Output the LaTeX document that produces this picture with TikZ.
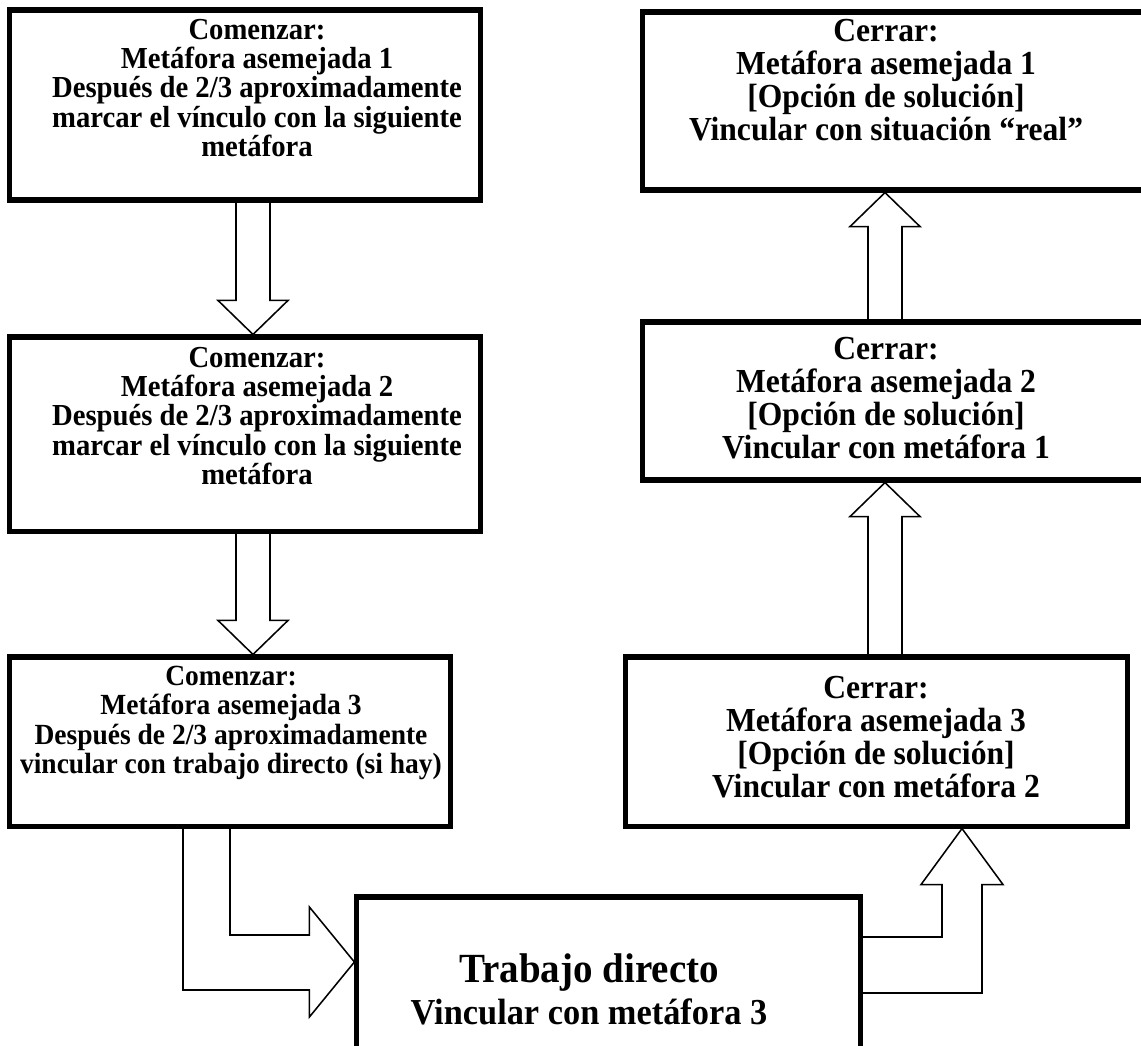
\documentclass[tikz,border=0pt]{standalone}
\usepackage{fontspec}
\setmainfont[FakeStretch=0.94]{Liberation Serif}
\usetikzlibrary{calc,backgrounds}

\tikzset{
  caja/.style={draw, line width=3.6pt, inner sep=0pt},
  textoa/.style={align=center, inner sep=0pt, font=\bfseries\fontsize{21.7}{20.8}\selectfont},
  textoc/.style={align=center, inner sep=0pt, font=\bfseries\fontsize{23.9}{23.5}\selectfont},
  flecha/.style={draw, line width=1.1pt, fill=white, line join=miter},
}

\begin{document}
\begin{tikzpicture}[x=0.025cm, y=-0.025cm]
        \useasboundingbox (0,0) rectangle (1141,1045);

        % Comenzar (izquierda)
        \node[caja, minimum width=11.75cm, minimum height=4.75cm] (a1) at (245,105) {};
        \node[textoa] (a1txt) at (257,88) {Comenzar:\\Metáfora asemejada 1\\Después de 2/3 aproximadamente\\marcar el vínculo con la siguiente\\metáfora};

        \node[caja, minimum width=11.75cm, minimum height=4.85cm] (a2) at (245,434) {};
        \node[textoa] (a2txt) at (257,416) {Comenzar:\\Metáfora asemejada 2\\Después de 2/3 aproximadamente\\marcar el vínculo con la siguiente\\metáfora};

        \node[caja, minimum width=11cm, minimum height=4.225cm] (a3) at (230,741.5) {};
        \node[textoa, font=\bfseries\fontsize{20.8}{20.8}\selectfont] (a3txt) at (231,723) {Comenzar:\\Metáfora asemejada 3\\Después de 2/3 aproximadamente\\vincular con trabajo directo (si hay)};

        % Cerrar (derecha)
        \node[caja, minimum width=12.675cm, minimum height=4.45cm] (c1) at (896.5,101) {};
        \node[textoc] (c1txt) at (886,80) {Cerrar:\\Metáfora asemejada 1\\{[Opción de solución]}\\Vincular con situación “real”};

        \node[caja, minimum width=12.675cm, minimum height=3.95cm] (c2) at (896.5,401) {};
        \node[textoc] (c2txt) at (886,398) {Cerrar:\\Metáfora asemejada 2\\{[Opción de solución]}\\Vincular con metáfora 1};

        \node[caja, minimum width=12.525cm, minimum height=4.225cm] (c3) at (876.5,741.5) {};
        \node[textoc] (c3txt) at (876,737) {Cerrar:\\Metáfora asemejada 3\\{[Opción de solución]}\\Vincular con metáfora 2};

        % Trabajo directo
        \node[caja, minimum width=12.575cm, minimum height=4.65cm] (td) at (608.5,990) {};
        \node[align=center, inner sep=0pt, font=\bfseries\fontsize{26}{30}\selectfont] (tdtxt) at (589,989) {{\fontsize{29.5}{30}\selectfont Trabajo directo}\\Vincular con metáfora 3};

        \begin{scope}[on background layer]
        % flechas hacia abajo
        \coordinate (t12) at ($(a2.north)+(8,0)$);
        \draw[flecha] ($(t12 |- a1.south)+(-17,0)$) -- ($(t12)+(-17,-34)$) -- ($(t12)+(-35,-34)$) -- (t12)
            -- ($(t12)+(35,-34)$) -- ($(t12)+(17,-34)$) -- ($(t12 |- a1.south)+(17,0)$);
        \coordinate (t23) at ($(a3.north)+(23,0)$);
        \draw[flecha] ($(t23 |- a2.south)+(-17,0)$) -- ($(t23)+(-17,-34)$) -- ($(t23)+(-35,-34)$) -- (t23)
            -- ($(t23)+(35,-34)$) -- ($(t23)+(17,-34)$) -- ($(t23 |- a2.south)+(17,0)$);

        % flecha doblada hacia trabajo directo
        \coordinate (ls) at (a3.south);
        \coordinate (lt) at ($(td.west)+(0,-28)$);
        \draw[flecha] (ls) -- ($(ls |- lt)+(0,-27)$) -- ($(lt)+(-45,-27)$) -- ($(lt)+(-45,-55)$) -- (lt)
            -- ($(lt)+(-45,55)$) -- ($(lt)+(-45,28)$) -- ($(ls |- lt)+(-47,28)$) -- ($(ls)+(-47,0)$);

        % flecha doblada hacia cerrar 3
        \coordinate (rs) at ($(td.east)+(0,-53)$);
        \coordinate (rt) at ($(c3.south)+(85.5,0)$);
        \draw[flecha] (rs) -- ($(rs -| rt)+(-20,0)$) -- ($(rt)+(-20,56)$) -- ($(rt)+(-41,56)$) -- (rt)
            -- ($(rt)+(41,56)$) -- ($(rt)+(20,56)$) -- ($(rs -| rt)+(20,56)$) -- ($(rs)+(0,56)$);

        % flechas hacia arriba
        \coordinate (t32) at ($(c2.south)+(-11.5,0)$);
        \draw[flecha] ($(t32 |- c3.north)+(-17,0)$) -- ($(t32)+(-17,34)$) -- ($(t32)+(-35,34)$) -- (t32)
            -- ($(t32)+(35,34)$) -- ($(t32)+(17,34)$) -- ($(t32 |- c3.north)+(17,0)$);
        \coordinate (t21) at ($(c1.south)+(-11.5,0)$);
        \draw[flecha] ($(t21 |- c2.north)+(-17,0)$) -- ($(t21)+(-17,34)$) -- ($(t21)+(-35,34)$) -- (t21)
            -- ($(t21)+(35,34)$) -- ($(t21)+(17,34)$) -- ($(t21 |- c2.north)+(17,0)$);
        \end{scope}

\end{tikzpicture}
\end{document}
